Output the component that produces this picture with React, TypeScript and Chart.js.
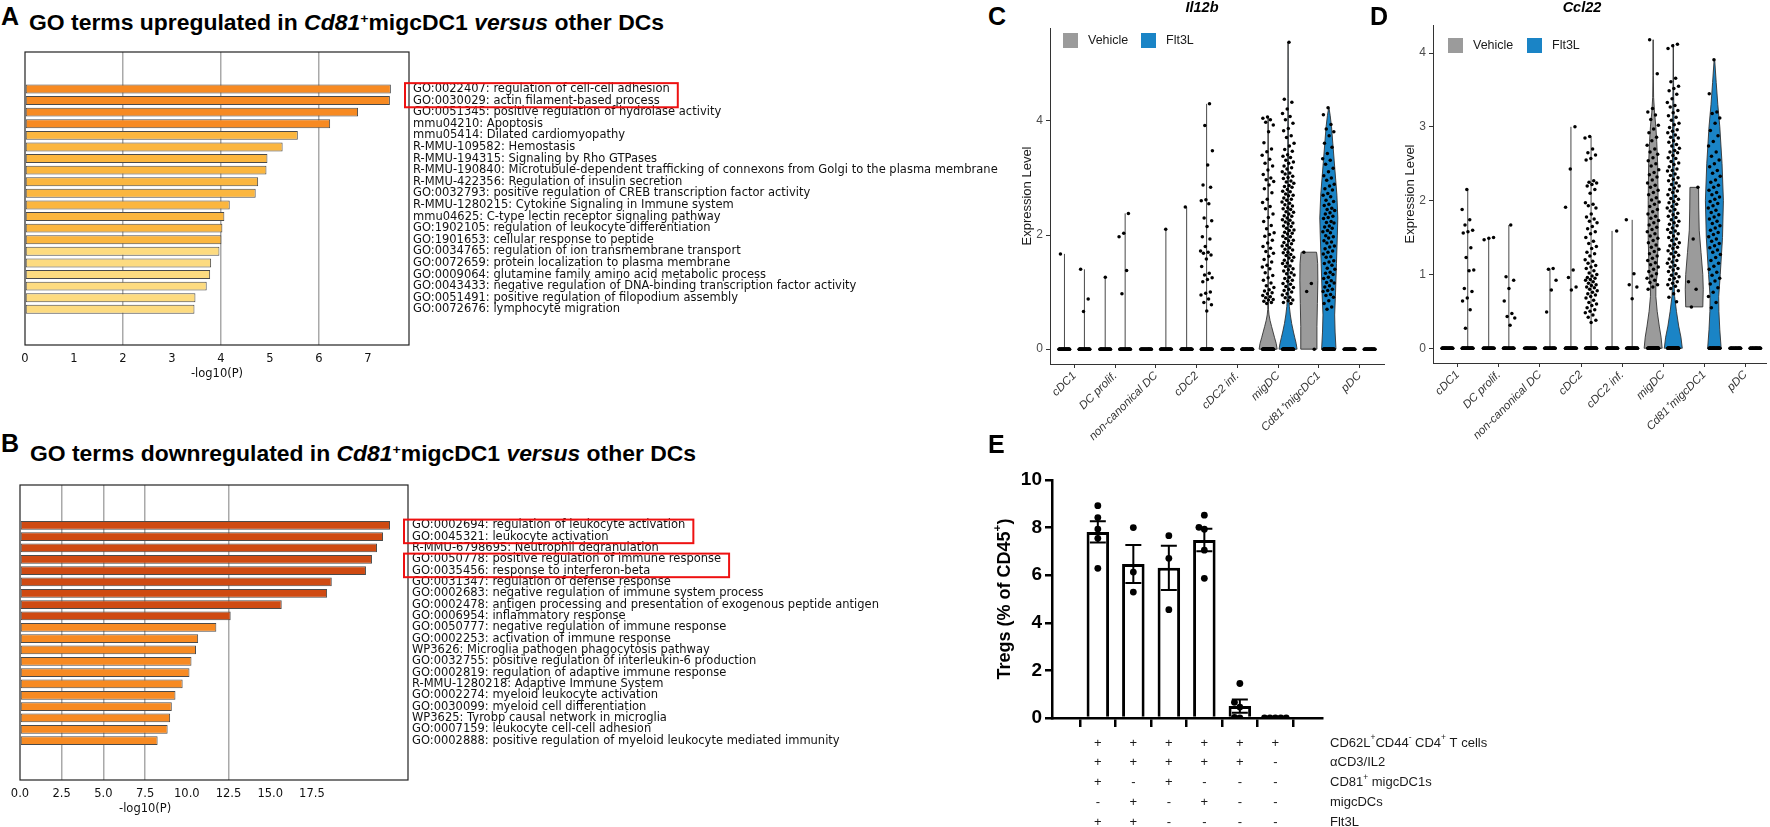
import React, { useEffect, useLayoutEffect, useRef } from 'react';
import { Chart, registerables } from 'chart.js';

Chart.register(...registerables);

const FONT = '"Liberation Sans", Arial, Helvetica, sans-serif';
const DV = '"DejaVu Sans", Verdana, sans-serif';

// ---------------- Panel A data ----------------
const upTerms = [
  'GO:0022407: regulation of cell-cell adhesion',
  'GO:0030029: actin filament-based process',
  'GO:0051345: positive regulation of hydrolase activity',
  'mmu04210: Apoptosis',
  'mmu05414: Dilated cardiomyopathy',
  'R-MMU-109582: Hemostasis',
  'R-MMU-194315: Signaling by Rho GTPases',
  'R-MMU-190840: Microtubule-dependent trafficking of connexons from Golgi to the plasma membrane',
  'R-MMU-422356: Regulation of insulin secretion',
  'GO:0032793: positive regulation of CREB transcription factor activity',
  'R-MMU-1280215: Cytokine Signaling in Immune system',
  'mmu04625: C-type lectin receptor signaling pathway',
  'GO:1902105: regulation of leukocyte differentiation',
  'GO:1901653: cellular response to peptide',
  'GO:0034765: regulation of ion transmembrane transport',
  'GO:0072659: protein localization to plasma membrane',
  'GO:0009064: glutamine family amino acid metabolic process',
  'GO:0043433: negative regulation of DNA-binding transcription factor activity',
  'GO:0051491: positive regulation of filopodium assembly',
  'GO:0072676: lymphocyte migration',
];
const upLogP = [7.47, 7.45, 6.8, 6.23, 5.57, 5.26, 4.95, 4.93, 4.76, 4.71, 4.18, 4.07, 4.03, 4.01, 3.97, 3.8, 3.78, 3.71, 3.48, 3.46];
const upTicks = [0, 1, 2, 3, 4, 5, 6, 7];
const upGrid = [2, 4, 6];
const upBoxes = [[0, 1]];

// ---------------- Panel B data ----------------
const downTerms = [
  'GO:0002694: regulation of leukocyte activation',
  'GO:0045321: leukocyte activation',
  'R-MMU-6798695: Neutrophil degranulation',
  'GO:0050778: positive regulation of immune response',
  'GO:0035456: response to interferon-beta',
  'GO:0031347: regulation of defense response',
  'GO:0002683: negative regulation of immune system process',
  'GO:0002478: antigen processing and presentation of exogenous peptide antigen',
  'GO:0006954: inflammatory response',
  'GO:0050777: negative regulation of immune response',
  'GO:0002253: activation of immune response',
  'WP3626: Microglia pathogen phagocytosis pathway',
  'GO:0032755: positive regulation of interleukin-6 production',
  'GO:0002819: regulation of adaptive immune response',
  'R-MMU-1280218: Adaptive Immune System',
  'GO:0002274: myeloid leukocyte activation',
  'GO:0030099: myeloid cell differentiation',
  'WP3625: Tyrobp causal network in microglia',
  'GO:0007159: leukocyte cell-cell adhesion',
  'GO:0002888: positive regulation of myeloid leukocyte mediated immunity',
];
const downLogP = [22.18, 21.76, 21.4, 21.1, 20.74, 18.69, 18.41, 15.69, 12.63, 11.77, 10.68, 10.55, 10.28, 10.16, 9.75, 9.32, 9.1, 9.0, 8.85, 8.25];
const downTicks = [0, 2.5, 5, 7.5, 10, 12.5, 15, 17.5];
const downGrid = [2.5, 5, 7.5, 12.5];
const downBoxes = [[0, 1], [3, 4]];

// ---------------- Panels C / D data ----------------
const dcTypes = ['cDC1', 'DC prolif.', 'non-canonical DC', 'cDC2', 'cDC2 inf.', 'migDC', 'Cd81\u207AmigcDC1', 'pDC'];
const groupNames = ['Vehicle', 'Flt3L'];

const il12bVehicle: number[][] = [
  [1.67],
  [1.26],
  [],
  [2.49],
  [],
  [4.07, 4.05, 4.02, 3.98, 3.93, 3.81, 3.62, 3.51, 3.46, 3.4, 3.33, 3.26, 3.21, 3.14, 3.06, 3.0, 2.97, 2.94, 2.88, 2.81, 2.74, 2.63, 2.57, 2.5, 2.46, 2.37, 2.31, 2.24, 2.17, 2.11, 2.04, 2.01, 1.98, 1.91, 1.86, 1.8, 1.77, 1.71, 1.68, 1.63, 1.57, 1.53, 1.47, 1.44, 1.41, 1.34, 1.29, 1.25, 1.21, 1.16, 1.11, 1.08, 1.04, 1.02, 0.99, 0.97, 0.94, 0.92, 0.9, 0.87, 0.86, 0.84, 0.82, 0.8],
  [1.7, 1.15, 1.01, 0],
  [],
];
const il12bVehicleZeros = [40, 35, 35, 40, 40, 60, 0, 35];
const il12bFlt3l: number[][] = [
  [1.4, 0.88, 0.66],
  [2.38, 2.03, 1.97, 1.38, 0.97],
  [2.1],
  [4.3, 3.92, 3.48, 3.23, 2.88, 2.84, 2.62, 2.6, 2.55, 2.3, 2.25, 2.15, 1.97, 1.93, 1.8, 1.72, 1.7, 1.68, 1.65, 1.58, 1.45, 1.33, 1.3, 1.25, 1.22, 1.18, 1.0, 0.98, 0.95, 0.88, 0.82, 0.78, 0.67],
  [],
  [5.38, 4.38, 4.33, 4.21, 4.13, 4.08, 4.02, 3.96, 3.87, 3.83, 3.74, 3.71, 3.61, 3.56, 3.5, 3.47, 3.41, 3.38, 3.36, 3.31, 3.28, 3.26, 3.21, 3.18, 3.16, 3.11, 3.09, 3.07, 3.03, 3.01, 2.99, 2.95, 2.93, 2.91, 2.87, 2.85, 2.84, 2.8, 2.77, 2.76, 2.72, 2.7, 2.69, 2.65, 2.63, 2.61, 2.58, 2.56, 2.53, 2.51, 2.48, 2.46, 2.45, 2.41, 2.4, 2.37, 2.34, 2.33, 2.3, 2.27, 2.26, 2.23, 2.21, 2.2, 2.16, 2.15, 2.12, 2.09, 2.08, 2.05, 2.03, 2.02, 1.98, 1.97, 1.94, 1.91, 1.9, 1.87, 1.85, 1.82, 1.81, 1.78, 1.75, 1.74, 1.7, 1.69, 1.66, 1.64, 1.61, 1.6, 1.56, 1.55, 1.51, 1.5, 1.46, 1.45, 1.41, 1.39, 1.37, 1.34, 1.32, 1.3, 1.26, 1.24, 1.21, 1.19, 1.15, 1.14, 1.1, 1.08, 1.05, 1.03, 1.0, 0.97, 0.95, 0.91, 0.9, 0.86, 0.85, 0.82, 0.8],
  [4.23, 4.11, 3.94, 3.86, 3.81, 3.74, 3.61, 3.54, 3.43, 3.34, 3.31, 3.24, 3.17, 3.11, 3.04, 3.0, 2.96, 2.89, 2.86, 2.81, 2.79, 2.73, 2.7, 2.67, 2.61, 2.59, 2.54, 2.52, 2.47, 2.45, 2.43, 2.39, 2.37, 2.33, 2.31, 2.29, 2.24, 2.22, 2.21, 2.16, 2.14, 2.12, 2.08, 2.06, 2.04, 1.99, 1.97, 1.95, 1.9, 1.88, 1.86, 1.81, 1.79, 1.76, 1.72, 1.7, 1.67, 1.62, 1.61, 1.55, 1.53, 1.5, 1.47, 1.42, 1.4, 1.35, 1.33, 1.31, 1.26, 1.24, 1.2, 1.17, 1.16, 1.11, 1.09, 1.05, 1.03, 1.01, 0.96, 0.94, 0.91, 0.85, 0.8, 0.74, 0.7],
  [],
];
const il12bFlt3lZeros = [40, 35, 35, 40, 40, 60, 40, 35];
const il12bVehicleShape: ([number, number][] | null)[] = [
  null, null, null, null, null,
  [[0, 1], [0.1, 0.9], [0.2, 0.72], [0.3, 0.55], [0.4, 0.38], [0.5, 0.22], [0.6, 0.1], [0.7, 0.04], [0.9, 0.02], [4.07, 0.01]],
  [[0, 0.9], [0.4, 0.9], [0.8, 0.95], [1.2, 1.0], [1.5, 0.98], [1.65, 0.9], [1.7, 0.85]],
  null,
];
const il12bFlt3lShape: ([number, number][] | null)[] = [
  null, null, null, null, null,
  [[0, 1], [0.1, 0.9], [0.2, 0.75], [0.3, 0.6], [0.45, 0.4], [0.6, 0.25], [0.75, 0.14], [0.9, 0.08], [1.5, 0.06], [3.0, 0.05], [4.4, 0.02], [5.38, 0.005]],
  [[0, 0.8], [0.3, 0.7], [0.6, 0.65], [1.0, 0.75], [1.5, 0.85], [2.0, 0.95], [2.3, 1.0], [2.7, 0.9], [3.0, 0.75], [3.3, 0.6], [3.6, 0.45], [3.9, 0.3], [4.1, 0.15], [4.23, 0.02]],
  null,
];
const il12bYTicks = [0, 2, 4];

const ccl22Vehicle: number[][] = [
  [],
  [1.5, 1.49, 1.47],
  [],
  [3.0, 2.43, 1.91, 1.06, 0.96, 0.83, 0.79],
  [1.59],
  [4.18, 3.72, 3.25, 3.2, 3.16, 3.1, 3.02, 2.97, 2.92, 2.86, 2.81, 2.75, 2.7, 2.66, 2.63, 2.58, 2.54, 2.5, 2.47, 2.42, 2.38, 2.35, 2.32, 2.28, 2.24, 2.21, 2.18, 2.14, 2.11, 2.08, 2.04, 2.01, 1.98, 1.95, 1.92, 1.88, 1.85, 1.82, 1.79, 1.76, 1.73, 1.7, 1.67, 1.64, 1.61, 1.58, 1.55, 1.52, 1.49, 1.46, 1.43, 1.4, 1.37, 1.34, 1.31, 1.28, 1.25, 1.22, 1.19, 1.16, 1.13, 1.1, 1.07, 1.04, 1.01, 0.98, 0.95, 0.92, 0.89, 0.86, 0.83, 0.8],
  [2.18, 1.48, 0.9, 0.8, 0.56],
  [],
];
const ccl22VehicleZeros = [40, 30, 30, 40, 40, 60, 0, 30];
const ccl22Flt3l: number[][] = [
  [2.15, 1.88, 1.74, 1.67, 1.6, 1.58, 1.56, 1.36, 1.23, 1.06, 1.05, 0.81, 0.77, 0.68, 0.64, 0.52, 0.27],
  [1.67, 0.97, 0.92, 0.81, 0.64, 0.47, 0.43, 0.41, 0.31],
  [1.08, 1.07, 0.92, 0.79, 0.49],
  [2.87, 2.85, 2.7, 2.65, 2.62, 2.57, 2.55, 2.27, 2.25, 2.24, 2.22, 2.2, 2.15, 2.1, 1.97, 1.95, 1.93, 1.9, 1.82, 1.78, 1.75, 1.72, 1.7, 1.65, 1.62, 1.58, 1.55, 1.5, 1.45, 1.42, 1.38, 1.35, 1.3, 1.28, 1.25, 1.2, 1.18, 1.15, 1.12, 1.1, 1.08, 1.05, 1.02, 1.0, 0.98, 0.96, 0.95, 0.93, 0.92, 0.9, 0.88, 0.86, 0.85, 0.83, 0.82, 0.8, 0.78, 0.76, 0.74, 0.72, 0.7, 0.68, 0.65, 0.62, 0.6, 0.58, 0.55, 0.52, 0.5, 0.48, 0.45, 0.42, 0.38, 0.35],
  [1.74, 1.01, 0.86, 0.83, 0.67],
  [4.12, 4.1, 4.06, 3.66, 3.61, 3.55, 3.52, 3.49, 3.44, 3.38, 3.33, 3.29, 3.27, 3.22, 3.19, 3.15, 3.13, 3.09, 3.05, 3.03, 2.99, 2.96, 2.94, 2.92, 2.89, 2.86, 2.85, 2.81, 2.79, 2.76, 2.74, 2.71, 2.68, 2.66, 2.65, 2.61, 2.58, 2.57, 2.53, 2.51, 2.49, 2.46, 2.43, 2.41, 2.4, 2.36, 2.34, 2.31, 2.29, 2.27, 2.24, 2.22, 2.2, 2.17, 2.15, 2.13, 2.11, 2.08, 2.06, 2.03, 2.02, 1.99, 1.97, 1.95, 1.92, 1.9, 1.88, 1.86, 1.83, 1.81, 1.79, 1.77, 1.74, 1.72, 1.7, 1.68, 1.66, 1.63, 1.61, 1.59, 1.57, 1.55, 1.52, 1.5, 1.48, 1.46, 1.43, 1.41, 1.39, 1.37, 1.35, 1.32, 1.3, 1.28, 1.26, 1.24, 1.21, 1.19, 1.17, 1.15, 1.12, 1.1, 1.08, 1.06, 1.04, 1.01, 0.99, 0.97, 0.95, 0.93, 0.9, 0.88, 0.86, 0.84, 0.81, 0.78, 0.74, 0.69, 0.63],
  [3.91, 3.45, 3.2, 3.18, 3.12, 3.05, 2.95, 2.88, 2.8, 2.74, 2.66, 2.6, 2.55, 2.5, 2.46, 2.41, 2.37, 2.33, 2.28, 2.25, 2.21, 2.18, 2.14, 2.11, 2.08, 2.05, 2.02, 1.99, 1.96, 1.93, 1.9, 1.87, 1.84, 1.81, 1.78, 1.75, 1.72, 1.69, 1.66, 1.63, 1.6, 1.57, 1.54, 1.51, 1.48, 1.45, 1.42, 1.39, 1.36, 1.33, 1.3, 1.27, 1.23, 1.19, 1.15, 1.11, 1.07, 1.03, 0.99, 0.95, 0.91, 0.87, 0.82, 0.76, 0.7, 0.62, 0.55],
  [],
];
const ccl22Flt3lZeros = [40, 30, 30, 50, 40, 60, 40, 30];
const ccl22VehicleShape: ([number, number][] | null)[] = [
  null, null, null, null, null,
  [[0, 1], [0.15, 0.88], [0.3, 0.68], [0.5, 0.45], [0.7, 0.3], [0.85, 0.3], [1.0, 0.45], [1.5, 0.55], [2.0, 0.55], [2.5, 0.5], [2.8, 0.4], [3.0, 0.3], [3.2, 0.15], [3.4, 0.05], [3.7, 0.02], [4.18, 0.005]],
  [[0.56, 0.95], [0.8, 1.0], [1.0, 0.95], [1.3, 0.75], [1.6, 0.55], [1.9, 0.5], [2.18, 0.48]],
  null,
];
const ccl22Flt3lShape: ([number, number][] | null)[] = [
  null, null, null, null, null,
  [[0, 1], [0.15, 0.85], [0.3, 0.6], [0.5, 0.35], [0.7, 0.15], [0.9, 0.07], [1.3, 0.09], [2.0, 0.1], [3.0, 0.08], [3.6, 0.03], [4.12, 0.005]],
  [[0, 0.75], [0.25, 0.6], [0.5, 0.5], [0.7, 0.48], [1.0, 0.65], [1.5, 0.9], [2.0, 1.0], [2.5, 0.85], [3.0, 0.6], [3.3, 0.38], [3.6, 0.2], [3.91, 0.03]],
  null,
];
const ccl22YTicks = [0, 1, 2, 3, 4];

// ---------------- Panel E data ----------------
const tregDots = [
  [8.92, 8.42, 7.94, 7.55, 6.29],
  [8.0, 6.13, 5.29],
  [7.66, 6.71, 4.55],
  [8.52, 8.01, 7.93, 7.05, 5.87],
  [1.45, 0.66, 0.46, 0.03, 0],
  [0, 0, 0, 0, 0],
];
const tregMean = [7.82, 6.47, 6.31, 7.48, 0.5, 0];
const tregSem = [0.45, 0.8, 0.93, 0.47, 0.28, 0];
const tregTicks = [0, 2, 4, 6, 8, 10];
const conditionNames = ['CD62L^+^CD44^-^ CD4^+^ T cells', '\u03B1CD3/IL2', 'CD81^+^ migcDC1s', 'migcDCs', 'Flt3L'];
const conditionMarks = [
  ['+', '+', '+', '+', '+', '+'],
  ['+', '+', '+', '+', '+', '-'],
  ['+', '-', '+', '-', '-', '-'],
  ['-', '+', '-', '+', '-', '-'],
  ['+', '+', '-', '-', '-', '-'],
];

// ---------------- styles ----------------
const upColors = upLogP.map((_, i) => (i < 4 ? '#f78a22' : i < 14 ? '#fbb63f' : '#fddb80'));
const downColors = downLogP.map((_, i) => (i < 9 ? '#cf4a12' : '#f78a22'));
const GRAY = '#9b9b9b';
const BLUE = '#1a84c6';

// ---------------- helpers ----------------
function drawRich(ctx: CanvasRenderingContext2D, text: string, x: number, y: number, size: number, weight: string, align: 'left' | 'center') {
  const parts = text.split('^');
  const fontFor = (sup: boolean) => `${weight} ${sup ? size * 0.65 : size}px ${FONT}`;
  let total = 0;
  parts.forEach((p, i) => {
    ctx.font = fontFor(i % 2 === 1);
    total += ctx.measureText(p).width;
  });
  let cx = align === 'center' ? x - total / 2 : x;
  ctx.textAlign = 'left';
  parts.forEach((p, i) => {
    const sup = i % 2 === 1;
    ctx.font = fontFor(sup);
    ctx.fillText(p, cx, sup ? y - size * 0.38 : y);
    cx += ctx.measureText(p).width;
  });
}

const jit = (k: number) => ((k * 0.6180339887 + 0.17) % 1) - 0.5;

const goPlugin = {
  id: 'goDecor',
  afterDraw(chart: any, _args: any, opts: any) {
    const { ctx, chartArea: a, scales } = chart;
    const x = scales.x;
    const y = scales.y;
    ctx.save();
    ctx.strokeStyle = '#222';
    ctx.lineWidth = 1.2;
    ctx.strokeRect(a.left, a.top, a.right - a.left, a.bottom - a.top);
    ctx.font = `11.5px ${DV}`;
    ctx.fillStyle = '#111';
    ctx.textBaseline = 'middle';
    ctx.textAlign = 'left';
    const lx = a.right + 4;
    opts.labels.forEach((t: string, i: number) => ctx.fillText(t, lx, y.getPixelForValue(i)));
    const slot = Math.abs(y.getPixelForValue(1) - y.getPixelForValue(0));
    ctx.strokeStyle = '#ee1111';
    ctx.lineWidth = 2;
    opts.boxes.forEach(([i0, i1]: number[]) => {
      let w = 0;
      for (let i = i0; i <= i1; i++) w = Math.max(w, ctx.measureText(opts.labels[i]).width);
      const top = y.getPixelForValue(i0) - slot * 0.5;
      const bottom = y.getPixelForValue(i1) + slot * 0.58;
      ctx.strokeRect(a.right - 4, top, lx + w + 8 - (a.right - 4), bottom - top);
    });
    ctx.textAlign = 'center';
    ctx.fillStyle = '#111';
    ctx.fillText(opts.axisTitle, x.getPixelForValue(opts.titleAt), a.bottom + 29);
    ctx.restore();
  },
};

function goConfig(terms: string[], values: number[], colors: string[], ticks: number[], grid: number[], xMax: number, yMin: number, yMax: number, boxes: number[][], titleAt: number, decimals: number) {
  return {
    type: 'bar',
    data: {
      datasets: [
        {
          data: values.map((v, i) => ({ x: v, y: i })),
          backgroundColor: colors,
          borderColor: '#4a4a4a',
          borderWidth: 1,
          borderSkipped: false,
          barPercentage: 0.77,
          categoryPercentage: 1,
        },
      ],
    },
    options: {
      indexAxis: 'y',
      animation: false,
      responsive: false,
      maintainAspectRatio: false,
      layout: { padding: { left: 0, right: 0, top: 0, bottom: 0 } },
      plugins: {
        legend: { display: false },
        tooltip: { enabled: false },
        goDecor: { labels: terms, boxes, titleAt, axisTitle: '-log10(P)' },
      },
      scales: {
        x: {
          type: 'linear',
          min: 0,
          max: xMax,
          afterBuildTicks: (s: any) => {
            s.ticks = ticks.map((v) => ({ value: v }));
          },
          afterFit: (s: any) => {
            s.height = 40;
          },
          border: { display: false },
          grid: {
            color: (c: any) => (c.tick && grid.includes(c.tick.value) ? '#a9a9a9' : 'rgba(0,0,0,0)'),
            lineWidth: 1.5,
            drawTicks: false,
          },
          ticks: {
            padding: 7,
            color: '#111',
            font: { family: DV, size: 11.5 },
            maxRotation: 0,
            autoSkip: false,
            callback: (v: number) => (decimals ? Number(v).toFixed(decimals) : String(v)),
          },
        },
        y: { type: 'linear', reverse: true, min: yMin, max: yMax, display: false },
      },
    },
    plugins: [goPlugin],
  };
}

const violinPlugin = {
  id: 'violins',
  beforeDatasetsDraw(chart: any, _a: any, opts: any) {
    const { ctx, scales } = chart;
    const x = scales.x;
    const y = scales.y;
    const HW = 9;
    ctx.save();
    ctx.strokeStyle = '#333';
    ctx.lineWidth = 0.9;
    opts.groups.forEach((g: any) => {
      const cx = x.getPixelForValue(g.x);
      if (!g.shape) {
        if (g.top > g.bottom) {
          ctx.beginPath();
          ctx.moveTo(cx, y.getPixelForValue(g.bottom));
          ctx.lineTo(cx, y.getPixelForValue(g.top));
          ctx.stroke();
        }
        return;
      }
      ctx.beginPath();
      g.shape.forEach(([v, w]: number[], i: number) => {
        const px = cx + w * HW;
        const py = y.getPixelForValue(v);
        if (i === 0) ctx.moveTo(px, py);
        else ctx.lineTo(px, py);
      });
      for (let i = g.shape.length - 1; i >= 0; i--) {
        const [v, w] = g.shape[i];
        ctx.lineTo(cx - w * HW, y.getPixelForValue(v));
      }
      ctx.closePath();
      ctx.fillStyle = g.color;
      ctx.fill();
      ctx.stroke();
    });
    ctx.restore();
  },
  afterDraw(chart: any, _a: any, opts: any) {
    const { ctx, chartArea: a } = chart;
    ctx.save();
    const ly = opts.legendTop;
    ctx.textBaseline = 'middle';
    ctx.textAlign = 'left';
    ctx.font = `12.5px ${FONT}`;
    const items = [
      { c: GRAY, t: groupNames[0], dx: opts.legendDx[0] },
      { c: BLUE, t: groupNames[1], dx: opts.legendDx[1] },
    ];
    items.forEach((it) => {
      ctx.fillStyle = it.c;
      ctx.fillRect(a.left + it.dx, ly, 15, 15);
      ctx.fillStyle = '#1a1a1a';
      ctx.fillText(it.t, a.left + it.dx + 25, ly + 8);
    });
    ctx.translate(a.left - 23, (a.top + a.bottom) / 2);
    ctx.rotate(-Math.PI / 2);
    ctx.textAlign = 'center';
    ctx.font = `13px ${FONT}`;
    ctx.fillStyle = '#1a1a1a';
    ctx.fillText('Expression Level', 0, 0);
    ctx.restore();
  },
};

function violinConfig(p: any) {
  const DODGE = 0.245;
  const pts: { x: number; y: number }[] = [];
  const groups: any[] = [];
  let k = 0;
  [0, 1].forEach((g) => {
    const vals: number[][] = g ? p.flt3l : p.vehicle;
    const zeros: number[] = g ? p.fZeros : p.vZeros;
    const shapes = g ? p.fShape : p.vShape;
    dcTypes.forEach((_, c) => {
      const cx = c + (g ? DODGE : -DODGE);
      const v = vals[c];
      const top = v.length ? Math.max(...v) : 0;
      const bottom = zeros[c] > 0 ? 0 : v.length ? Math.min(...v) : 0;
      groups.push({ x: cx, shape: shapes[c], top, bottom, color: g ? BLUE : GRAY });
      v.forEach((val) => pts.push({ x: cx + jit(k++) * 0.3, y: val }));
      for (let z = 0; z < zeros[c]; z++) pts.push({ x: cx + jit(k++) * 0.27, y: 0 });
    });
  });
  return {
    type: 'scatter',
    data: {
      datasets: [
        {
          data: pts,
          pointRadius: 1.75,
          pointBackgroundColor: '#000',
          pointBorderWidth: 0,
        },
      ],
    },
    options: {
      animation: false,
      responsive: false,
      maintainAspectRatio: false,
      layout: { padding: { left: 0, right: p.padRight, top: p.padTop, bottom: 0 } },
      plugins: {
        legend: { display: false },
        tooltip: { enabled: false },
        violins: { groups, legendTop: p.legendTop, legendDx: p.legendDx },
      },
      scales: {
        x: {
          type: 'linear',
          min: -0.6,
          max: p.xMax,
          afterBuildTicks: (s: any) => {
            s.ticks = dcTypes.map((_, i) => ({ value: i }));
          },
          afterFit: (s: any) => {
            s.height = p.xHeight;
          },
          border: { color: '#333', width: 1 },
          grid: { drawOnChartArea: false, tickLength: 4, tickColor: '#333', color: '#333' },
          ticks: {
            autoSkip: false,
            minRotation: 45,
            maxRotation: 45,
            padding: 1,
            color: '#333',
            font: { family: FONT, size: 11.5, style: 'italic' },
            callback: (v: number) => dcTypes[v] ?? '',
          },
        },
        y: {
          type: 'linear',
          min: p.yMin,
          max: p.yMax,
          afterBuildTicks: (s: any) => {
            s.ticks = p.yTicks.map((v: number) => ({ value: v }));
          },
          afterFit: (s: any) => {
            s.width = 60;
          },
          border: { color: '#333', width: 1 },
          grid: { drawOnChartArea: false, tickLength: 4, tickColor: '#333', color: '#333' },
          ticks: { padding: 3, color: '#4d4d4d', font: { family: FONT, size: 12 } },
        },
      },
    },
    plugins: [violinPlugin],
  };
}

function swarm(vals: number[]): number[] {
  const xPx = 42.6;
  const yPx = 23.8;
  const d = 6.5;
  const order = vals.map((v, i) => i).sort((a, b) => vals[a] - vals[b]);
  const placed: { dx: number; v: number }[] = [];
  const out = new Array(vals.length).fill(0);
  order.forEach((i) => {
    const v = vals[i];
    for (const kk of [0, -1, 1, -2, 2, -3, 3]) {
      const dx = kk * d;
      const ok = placed.every((p) => (p.dx - dx) ** 2 + ((p.v - v) * yPx) ** 2 >= d * d * 0.95);
      if (ok) {
        placed.push({ dx, v });
        out[i] = dx / xPx;
        break;
      }
    }
  });
  return out;
}

const tregPlugin = {
  id: 'tregDecor',
  afterDatasetsDraw(chart: any) {
    const { ctx, scales } = chart;
    const x = scales.x;
    const y = scales.y;
    ctx.save();
    ctx.strokeStyle = '#000';
    ctx.lineWidth = 2;
    tregMean.forEach((m, i) => {
      if (!tregSem[i]) return;
      const cx = x.getPixelForValue(i);
      const t = y.getPixelForValue(m + tregSem[i]);
      const b = y.getPixelForValue(m - tregSem[i]);
      ctx.beginPath();
      ctx.moveTo(cx, t);
      ctx.lineTo(cx, b);
      ctx.moveTo(cx - 8, t);
      ctx.lineTo(cx + 8, t);
      ctx.moveTo(cx - 8, b);
      ctx.lineTo(cx + 8, b);
      ctx.stroke();
    });
    ctx.restore();
  },
  afterDraw(chart: any) {
    const { ctx, chartArea: a, scales } = chart;
    const x = scales.x;
    ctx.save();
    ctx.fillStyle = '#1a1a1a';
    ctx.textBaseline = 'middle';
    conditionMarks.forEach((row, r) => {
      const yy = a.bottom + 25 + r * 19.75;
      ctx.font = `13px ${FONT}`;
      ctx.textAlign = 'center';
      row.forEach((m, i) => ctx.fillText(m, x.getPixelForValue(i), yy));
      drawRich(ctx, conditionNames[r], a.right + 8, yy, 13, 'normal', 'left');
    });
    ctx.translate(a.left - 47, (a.top + a.bottom) / 2);
    ctx.rotate(-Math.PI / 2);
    ctx.fillStyle = '#000';
    drawRich(ctx, 'Tregs (% of CD45^+^)', 0, 0, 18, 'bold', 'center');
    ctx.restore();
  },
};

function tregConfig() {
  const dots: { x: number; y: number }[] = [];
  tregDots.forEach((vals, i) => {
    const off = swarm(vals);
    vals.forEach((v, j) => dots.push({ x: i + off[j], y: v }));
  });
  return {
    type: 'bar',
    data: {
      datasets: [
        {
          type: 'scatter',
          data: dots,
          pointRadius: 3.4,
          pointBackgroundColor: '#000',
          pointBorderWidth: 0,
        },
        {
          type: 'bar',
          data: tregMean.map((m, i) => ({ x: i, y: m })),
          backgroundColor: '#fff',
          borderColor: '#000',
          borderWidth: 3,
          borderSkipped: 'start',
          barPercentage: 0.634,
          categoryPercentage: 1,
        },
      ],
    },
    options: {
      animation: false,
      responsive: false,
      maintainAspectRatio: false,
      layout: { padding: { left: 0, right: 258, top: 20, bottom: 0 } },
      plugins: { legend: { display: false }, tooltip: { enabled: false } },
      scales: {
        x: {
          type: 'linear',
          min: -0.657,
          max: 5.68,
          afterBuildTicks: (s: any) => {
            s.ticks = tregMean.map((_, i) => ({ value: i }));
          },
          afterFit: (s: any) => {
            s.height = 109;
          },
          border: { color: '#000', width: 2.5, z: 1 },
          grid: { drawOnChartArea: false, tickLength: 9, tickColor: '#000', lineWidth: 2.5, color: '#000' },
          ticks: { callback: () => '' },
        },
        y: {
          type: 'linear',
          min: 0,
          max: 10,
          afterBuildTicks: (s: any) => {
            s.ticks = tregTicks.map((v) => ({ value: v }));
          },
          afterFit: (s: any) => {
            s.width = 92;
          },
          border: { color: '#000', width: 2.5, z: 1 },
          grid: { drawOnChartArea: false, tickLength: 7, tickColor: '#000', lineWidth: 2.5, color: '#000' },
          ticks: { padding: 3, color: '#000', font: { family: FONT, size: 19, weight: 'bold' } },
        },
      },
    },
    plugins: [tregPlugin],
  };
}

// ---------------- components ----------------
function ChartBox({ left, top, width, height, make }: { left: number; top: number; width: number; height: number; make: () => any }) {
  const ref = useRef<HTMLCanvasElement>(null);
  useEffect(() => {
    const chart = new Chart(ref.current as HTMLCanvasElement, make());
    return () => chart.destroy();
  }, []);
  return <canvas ref={ref} width={width} height={height} style={{ position: 'absolute', left, top, width, height }} />;
}

function FitText({ left, baseline, size, width, children }: { left: number; baseline: number; size: number; width: number; children: any }) {
  const ref = useRef<HTMLDivElement>(null);
  useLayoutEffect(() => {
    const el = ref.current;
    if (!el) return;
    el.style.transform = 'none';
    const w = el.getBoundingClientRect().width;
    if (w > 0) el.style.transform = `scaleX(${width / w})`;
  }, [width]);
  return (
    <div
      ref={ref}
      style={{
        position: 'absolute',
        left,
        top: baseline - 0.8465 * size,
        fontSize: size,
        lineHeight: 1,
        fontWeight: 700,
        whiteSpace: 'nowrap',
        transformOrigin: '0 0',
        fontFamily: FONT,
        color: '#000',
      }}
    >
      {children}
    </div>
  );
}

function Txt({ left, baseline, size, center, italic, children }: { left: number; baseline: number; size: number; center?: boolean; italic?: boolean; children: any }) {
  return (
    <div
      style={{
        position: 'absolute',
        left: center ? left - 100 : left,
        width: center ? 200 : undefined,
        textAlign: center ? 'center' : 'left',
        top: baseline - 0.8465 * size,
        fontSize: size,
        lineHeight: 1,
        fontWeight: 700,
        fontStyle: italic ? 'italic' : 'normal',
        whiteSpace: 'nowrap',
        fontFamily: FONT,
        color: '#000',
      }}
    >
      {children}
    </div>
  );
}

const supStyle: React.CSSProperties = { fontSize: '0.62em', position: 'relative', top: '-0.55em', lineHeight: 0 };

export default function App() {
  return (
    <div style={{ position: 'absolute', left: 0, top: 0, width: 1770, height: 827, overflow: 'hidden', background: '#fff' }}>
      <Txt left={1} baseline={25} size={25}>A</Txt>
      <FitText left={29} baseline={31} size={22} width={635}>
        GO terms upregulated in <i>Cd81</i>
        <span style={supStyle}>+</span>migcDC1 <i>versus</i> other DCs
      </FitText>
      <Txt left={1} baseline={452} size={25}>B</Txt>
      <FitText left={30} baseline={462} size={22} width={666}>
        GO terms downregulated in <i>Cd81</i>
        <span style={supStyle}>+</span>migcDC1 <i>versus</i> other DCs
      </FitText>
      <ChartBox
        left={0}
        top={40}
        width={1010}
        height={345}
        make={() => {
          const c: any = goConfig(upTerms, upLogP, upColors, upTicks, upGrid, 7.84, -1.08, 19.97, upBoxes, 3.92, 0);
          c.options.layout.padding = { left: 25, right: 601, top: 12, bottom: 0 };
          return c;
        }}
      />
      <ChartBox
        left={0}
        top={475}
        width={1010}
        height={345}
        make={() => {
          const c: any = goConfig(downTerms, downLogP, downColors, downTicks, downGrid, 23.26, -0.95, 19.87, downBoxes, 7.5, 1);
          c.options.layout.padding = { left: 20, right: 602, top: 10, bottom: 0 };
          return c;
        }}
      />

      <Txt left={988} baseline={25} size={25}>C</Txt>
      <Txt left={1202} baseline={12.5} size={14.5} center italic>Il12b</Txt>
      <ChartBox
        left={990}
        top={0}
        width={400}
        height={445}
        make={() =>
          violinConfig({
            vehicle: il12bVehicle,
            flt3l: il12bFlt3l,
            vZeros: il12bVehicleZeros,
            fZeros: il12bFlt3lZeros,
            vShape: il12bVehicleShape,
            fShape: il12bFlt3lShape,
            yMin: -0.26,
            yMax: 5.63,
            yTicks: il12bYTicks,
            xMax: 7.6,
            padRight: 6,
            padTop: 28,
            xHeight: 81,
            legendTop: 33,
            legendDx: [13, 91],
          })
        }
      />

      <Txt left={1370} baseline={25} size={25}>D</Txt>
      <Txt left={1582} baseline={12.5} size={14.5} center italic>Ccl22</Txt>
      <ChartBox
        left={1373}
        top={0}
        width={397}
        height={445}
        make={() =>
          violinConfig({
            vehicle: ccl22Vehicle,
            flt3l: ccl22Flt3l,
            vZeros: ccl22VehicleZeros,
            fZeros: ccl22Flt3lZeros,
            vShape: ccl22VehicleShape,
            fShape: ccl22Flt3lShape,
            yMin: -0.2,
            yMax: 4.38,
            yTicks: ccl22YTicks,
            xMax: 7.5,
            padRight: 3,
            padTop: 25,
            xHeight: 82,
            legendTop: 38,
            legendDx: [15, 94],
          })
        }
      />

      <Txt left={988} baseline={453} size={25}>E</Txt>
      <ChartBox left={960} top={460} width={620} height={367} make={tregConfig} />
    </div>
  );
}
